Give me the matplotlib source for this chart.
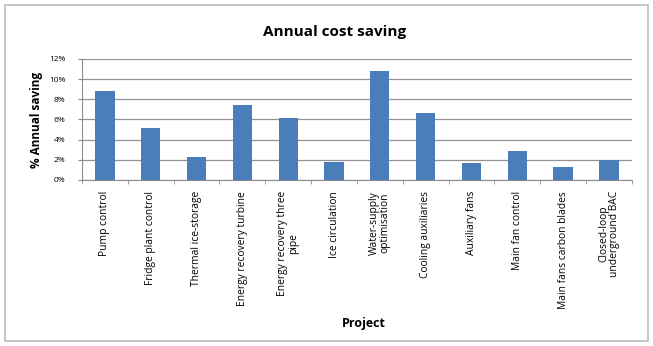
import numpy as np
import matplotlib.pyplot as plt
from matplotlib.patches import Rectangle
from matplotlib.ticker import PercentFormatter, FixedLocator

projects = ['Pump control', 'Fridge plant control', 'Thermal ice-storage',
            'Energy recovery turbine', 'Energy recovery three\npipe',
            'Ice circulation', 'Water-supply\noptimisation', 'Cooling auxiliaries',
            'Auxiliary fans', 'Main fan control', 'Main fans carbon blades',
            'Closed-loop\nunderground BAC']
saving = [8.8, 5.2, 2.3, 7.4, 6.1, 1.75, 10.8, 6.6, 1.7, 2.9, 1.3, 2.0]
yticks = [0, 2, 4, 6, 8, 10, 12]

plt.rcParams['font.family'] = ['Open Sans', 'DejaVu Sans']

fig = plt.figure(figsize=(6.53, 3.46), dpi=100)
fig.patches.append(Rectangle((0.008, 0.015), 0.984, 0.97, transform=fig.transFigure,
                             fill=False, edgecolor='#bdbdbd', linewidth=1.2))

ax = fig.add_axes([0.1256, 0.4798, 0.842, 0.3497])
x = np.arange(len(projects))
ax.bar(x, saving, width=0.42, color='#4a7ebb', zorder=3)

ax.set_xlim(-0.5, len(projects) - 0.5)
ax.set_ylim(0, 12)
ax.set_yticks(yticks)
ax.yaxis.set_major_formatter(PercentFormatter(decimals=0))
ax.grid(axis='y', color='#939393', linewidth=0.9, zorder=0)

# category labels hang below the axis, ticks sit between the bars
ax.set_xticks(x)
ax.set_xticklabels(projects, rotation=90, fontsize=7.4, va='top', ha='center',
                   linespacing=1.0)
ax.tick_params(axis='x', which='major', length=0, pad=8)
ax.xaxis.set_minor_locator(FixedLocator(np.arange(-0.5, len(projects), 1.0)))
ax.tick_params(axis='x', which='minor', length=3, color='#8c8c8c')
ax.tick_params(axis='y', labelsize=6, length=3, color='#8c8c8c', pad=9)

for side in ['top', 'right']:
    ax.spines[side].set_visible(False)
for side in ['left', 'bottom']:
    ax.spines[side].set_color('#8c8c8c')

ax.set_ylabel('% Annual saving', fontsize=8.5, fontweight='bold', labelpad=4)
fig.text(0.512, 0.908, 'Annual cost saving', fontsize=11, fontweight='bold',
         ha='center', va='center')
fig.text(0.557, 0.064, 'Project', fontsize=9, fontweight='bold',
         ha='center', va='center')

fig.savefig('out.png', dpi=100)
